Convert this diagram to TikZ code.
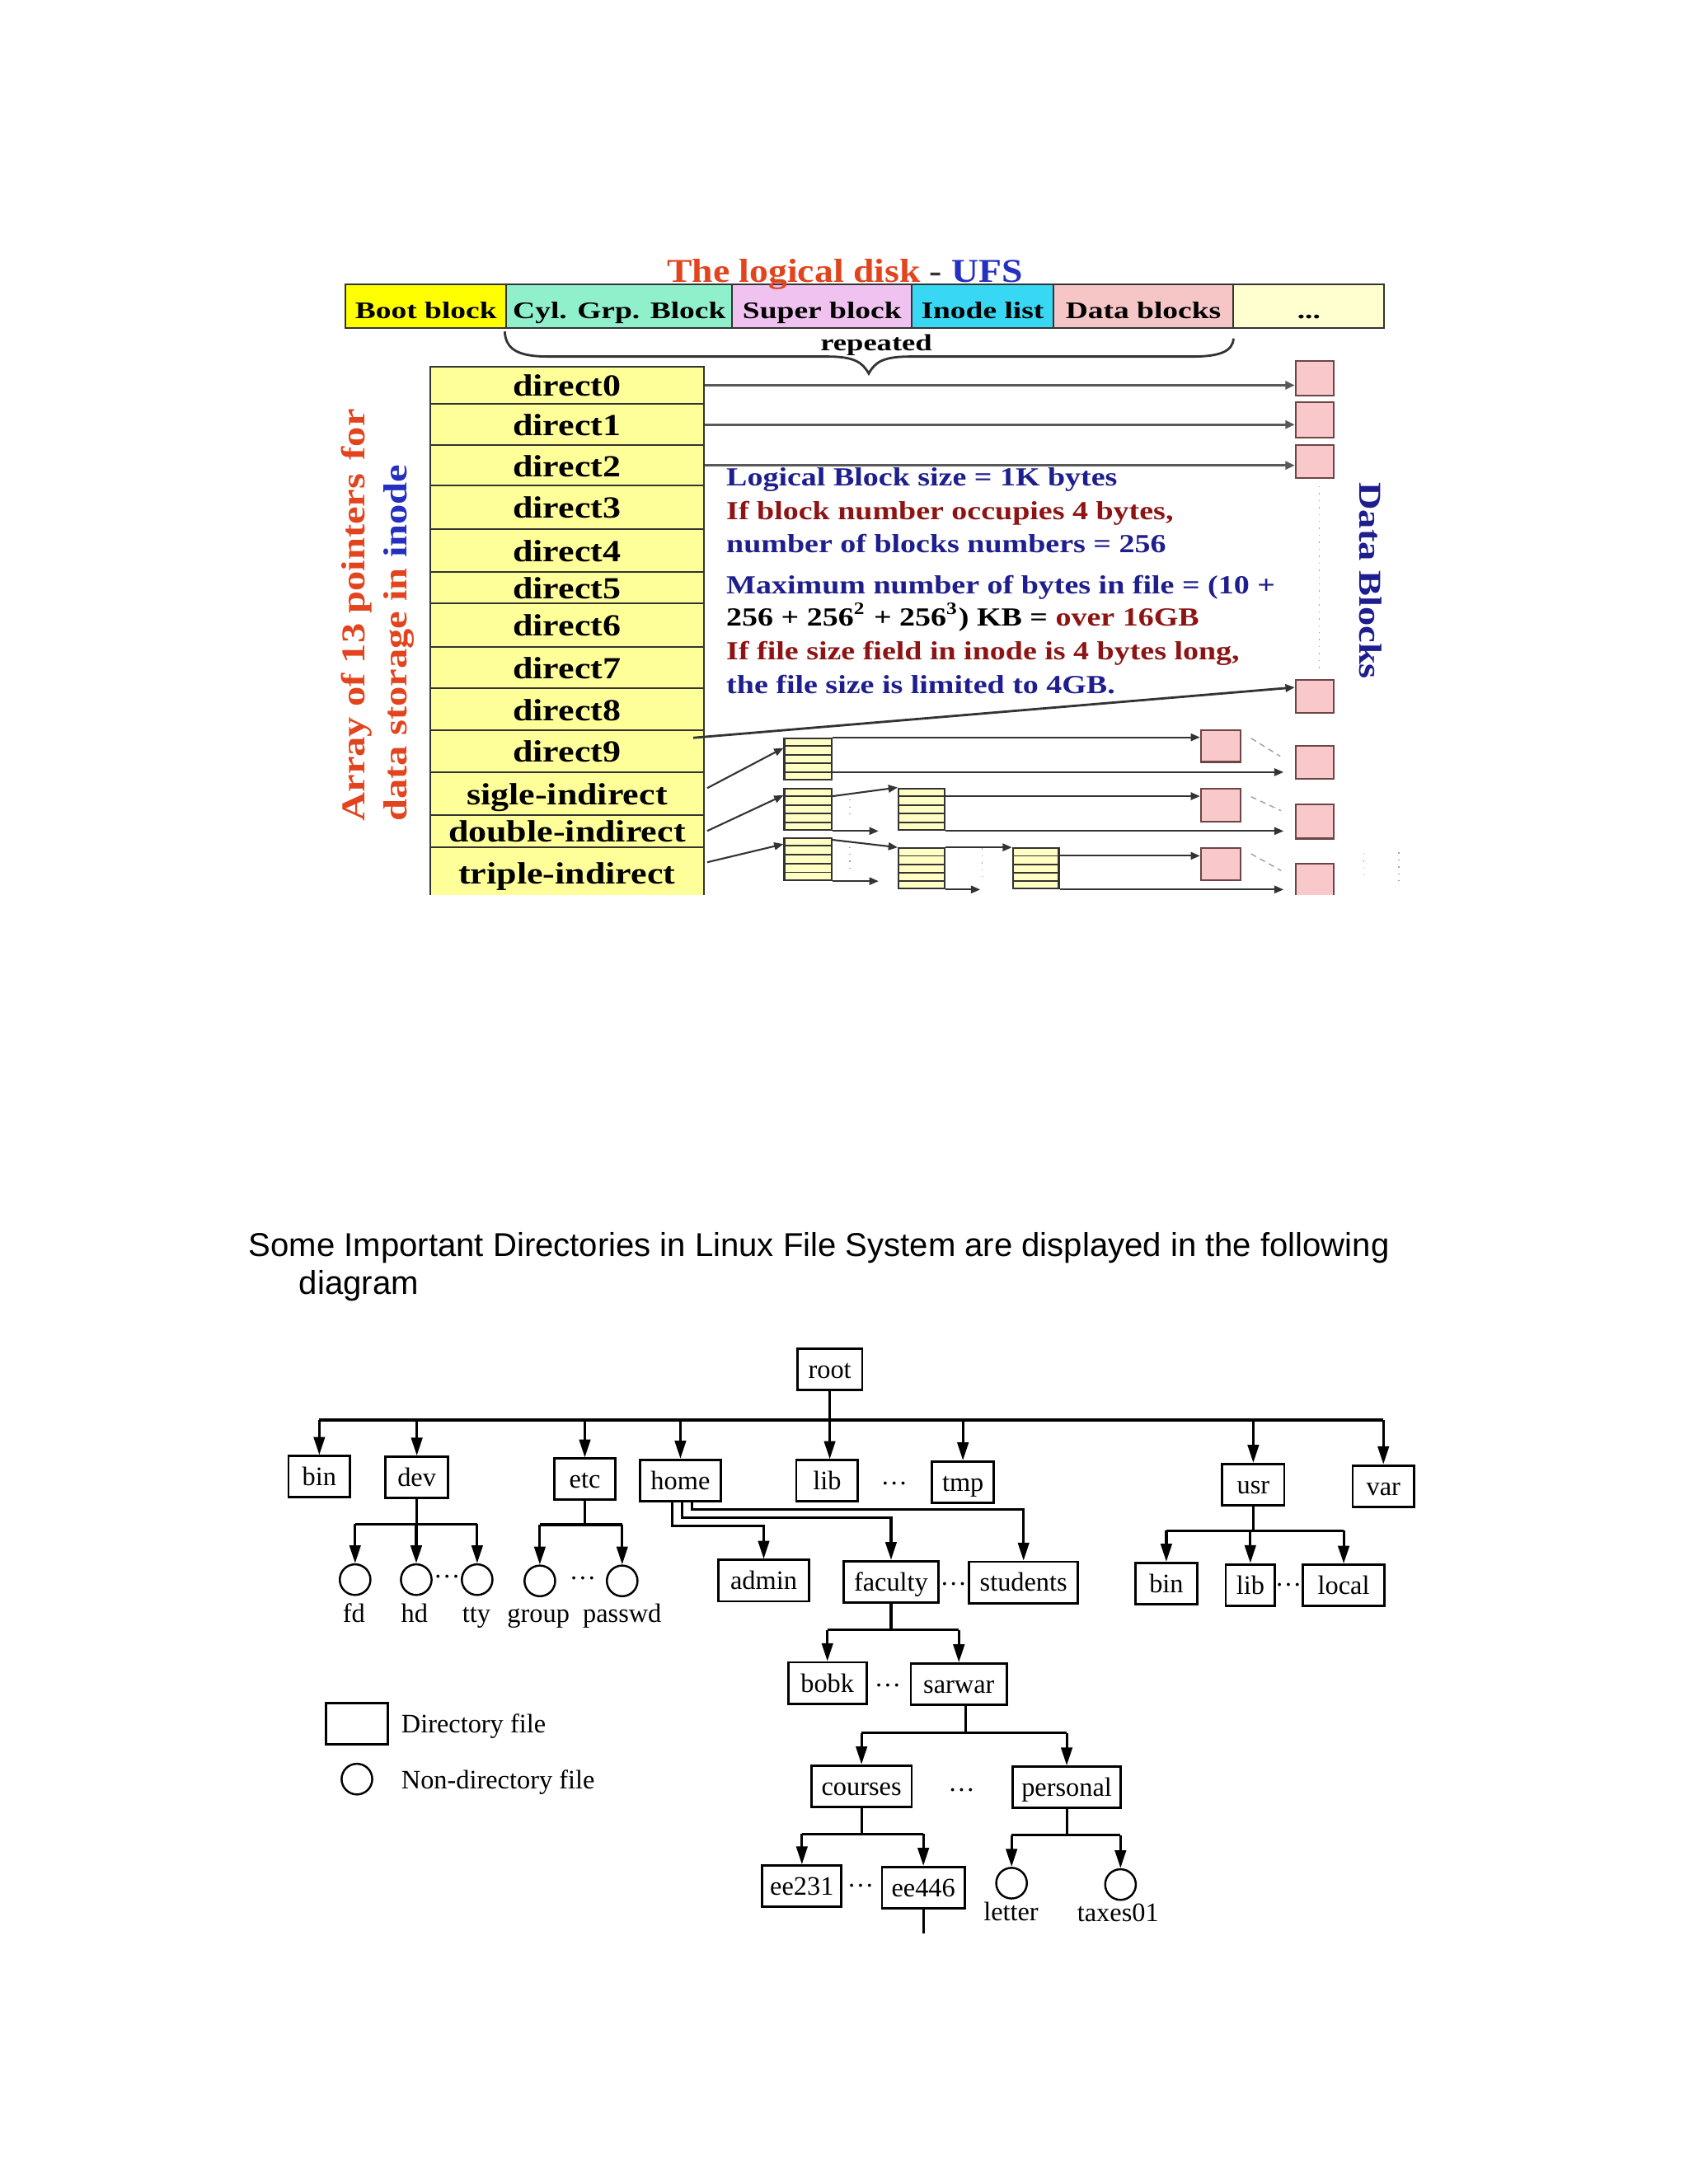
\documentclass[tikz,border=0pt]{standalone}
\usepackage{fontspec}
\setmainfont{Liberation Serif}
\newfontfamily\sansf{Liberation Sans}
\usepackage{graphicx}
\usetikzlibrary{arrows.meta,calc}
\definecolor{bootY}{HTML}{FFFF00}
\definecolor{cylG}{HTML}{90F0CC}
\definecolor{supP}{HTML}{F0C2F0}
\definecolor{inoC}{HTML}{38D8F4}
\definecolor{datP}{HTML}{F6C6C6}
\definecolor{dotY}{HTML}{FFFFD0}
\definecolor{tabY}{HTML}{FFFF99}
\definecolor{pinkB}{HTML}{F9C8CA}
\definecolor{pinkE}{HTML}{6E4444}
\definecolor{stripY}{HTML}{FFFFC4}
\definecolor{titR}{HTML}{E2441E}
\definecolor{titB}{HTML}{2430C0}
\definecolor{navy}{HTML}{1E1E8E}
\definecolor{dred}{HTML}{8E1414}
\definecolor{lineG}{HTML}{333333}
\definecolor{faintG}{HTML}{A0A0A0}
\newcommand{\sxk}[2]{\scalebox{#1}[1]{#2}}
\def\pxu{0.4808pt}
\tikzset{
  barseg/.style={draw=lineG, line width=0.6pt, minimum height=31.6*\pxu, inner sep=0pt,
    text height=8.66pt, text depth=0pt, font=\fontsize{8.2}{9}\selectfont\bfseries},
  inrow/.style={draw=lineG, line width=0.6pt, fill=tabY, minimum width=196*\pxu, inner sep=0pt,
    text height=7.6pt, text depth=0pt, font=\fontsize{10.6}{12}\selectfont\bfseries},
  pinkbox/.style={draw=pinkE, line width=0.6pt, fill=pinkB, inner sep=0pt},
  stripblk/.style={draw=lineG, line width=0.6pt, fill=stripY, inner sep=0pt},
  stripeln/.style={draw=lineG, line width=0.5pt},
  ptr/.style={draw=lineG, line width=0.6pt, -{Triangle[length=3.2pt,width=2.6pt]}},
  dptr/.style={draw=black!65, line width=0.9pt, -{Triangle[length=3.2pt,width=2.8pt]}},
  infot/.style={anchor=base west, inner sep=0pt, font=\fontsize{9}{11}\selectfont\bfseries},
  faint/.style={draw=faintG, line width=0.4pt},
  dirb/.style={draw=black, line width=0.8pt, minimum height=29.6*\pxu, inner sep=0pt,
    text height=6.2pt, text depth=0pt, font=\fontsize{9.2}{11}\selectfont},
  filec/.style={draw=black, line width=0.7pt, circle, minimum size=22*\pxu, inner sep=0pt},
  tline/.style={line width=0.9pt},
  tarr/.style={line width=0.9pt, -{Triangle[length=6.2pt,width=3.8pt]}},
  tlab/.style={anchor=base, inner sep=0pt, font=\fontsize{9.2}{11}\selectfont},
  tdots/.style={inner sep=0pt, font=\fontsize{9.2}{11}\selectfont},
}
\begin{document}
\begin{tikzpicture}[x=0.016898cm,y=-0.016898cm]
\fill[white] (0,0) rectangle (1212,1568);
\useasboundingbox (0,0) rectangle (1212,1568);

%================ TOP: logical disk / inode =================
\begin{scope}
\clip (190,170) rectangle (1020,642.5);

% disk bar
\node[barseg, fill=bootY, minimum width=115.5*\pxu] (boot) at (305.75,219.8) {\sxk{1.3}{Boot block}};
\node[barseg, fill=cylG, minimum width=162.1*\pxu] (cyl) at (444.55,219.8) {\sxk{1.3}{Cyl. Grp. Block}};
\node[barseg, fill=supP, minimum width=129*\pxu] (super) at (590.1,219.8) {\sxk{1.3}{Super block}};
\node[barseg, fill=inoC, minimum width=101.4*\pxu] (inol) at (705.3,219.8) {\sxk{1.3}{Inode list}};
\node[barseg, fill=datP, minimum width=129.4*\pxu] (datab) at (820.7,219.8) {\sxk{1.3}{Data blocks}};
\node[barseg, fill=dotY, minimum width=108.2*\pxu] (more) at (939.5,219.8) {\sxk{1.3}{...}};

% title
\node[anchor=base, inner sep=0pt, font=\fontsize{11.5}{13}\selectfont\bfseries] (title) at (606.5,202.5)
  {\sxk{1.13}{\textcolor{titR}{The logical disk} \textcolor{black!80}{-} \textcolor{titB}{UFS}}};

% brace + repeated
\draw[lineG, line width=0.8pt] (362.3,238) .. controls (363,251) and (372,256) .. (394,256)
  -- (594,256) .. controls (613,256) and (619,260) .. (623.6,268.2)
  .. controls (628,260) and (634,256) .. (653,256) -- (856,256)
  .. controls (876,256) and (885,252) .. (885.4,243);
\node[anchor=base, inner sep=0pt, font=\fontsize{8}{9}\selectfont\bfseries] (rep) at (629,251.5) {\sxk{1.3}{repeated}};

% inode table
\node[inrow, minimum height=26.8*\pxu] (d0) at (407,276.6) {\sxk{1.18}{direct0}};
\node[inrow, minimum height=29.7*\pxu] (d1) at (407,304.85) {\sxk{1.18}{direct1}};
\node[inrow, minimum height=28.9*\pxu] (d2) at (407,334.15) {\sxk{1.18}{direct2}};
\node[inrow, minimum height=31.1*\pxu] (d3) at (407,364.15) {\sxk{1.18}{direct3}};
\node[inrow, minimum height=30.9*\pxu] (d4) at (407,395.15) {\sxk{1.18}{direct4}};
\node[inrow, minimum height=22.6*\pxu] (d5) at (407,421.9) {\sxk{1.18}{direct5}};
\node[inrow, minimum height=31.2*\pxu] (d6) at (407,448.8) {\sxk{1.18}{direct6}};
\node[inrow, minimum height=29.9*\pxu] (d7) at (407,479.35) {\sxk{1.18}{direct7}};
\node[inrow, minimum height=29.9*\pxu] (d8) at (407,509.25) {\sxk{1.18}{direct8}};
\node[inrow, minimum height=30.4*\pxu] (d9) at (407,539.4) {\sxk{1.18}{direct9}};
\node[inrow, minimum height=30.4*\pxu] (si) at (407,569.8) {\sxk{1.18}{sigle-indirect}};
\node[inrow, minimum height=23.1*\pxu] (di) at (407,596.55) {\sxk{1.18}{double-indirect}};
\node[inrow, minimum height=36.9*\pxu] (ti) at (407,626.55) {\sxk{1.18}{triple-indirect}};

% rotated left text
\node[rotate=90, anchor=base west, inner sep=0pt, font=\fontsize{11.5}{13}\selectfont\bfseries, text=titR] (arr1) at (262,590)
  {\sxk{1.2}{Array of 13 pointers \hspace{1pt}for}};
\node[rotate=90, anchor=base west, inner sep=0pt, font=\fontsize{11.5}{13}\selectfont\bfseries, text=titR] (arr2) at (292,590)
  {\sxk{1.2}{data storage in \textcolor{titB}{inode}}};

% data blocks (right column)
\node[pinkbox, minimum width=27.4*\pxu, minimum height=25*\pxu] (p0) at (943.7,271.5) {};
\node[pinkbox, minimum width=27.4*\pxu, minimum height=25*\pxu] (p1) at (943.7,301.5) {};
\node[pinkbox, minimum width=27.4*\pxu, minimum height=23.4*\pxu] (p2) at (943.7,331.3) {};
\node[pinkbox, minimum width=27.4*\pxu, minimum height=24*\pxu] (p3) at (943.7,500) {};
\node[pinkbox, minimum width=27.4*\pxu, minimum height=23.5*\pxu] (p4) at (943.7,547.3) {};
\node[pinkbox, minimum width=27.4*\pxu, minimum height=24.5*\pxu] (p5) at (943.7,589.8) {};
\node[pinkbox, minimum width=27.4*\pxu, minimum height=25*\pxu] (p6) at (943.7,632.5) {};
% middle data blocks
\node[pinkbox, minimum width=28.3*\pxu, minimum height=23*\pxu] (m1) at (876.15,535.5) {};
\node[pinkbox, minimum width=28.3*\pxu, minimum height=24*\pxu] (m2) at (876.15,578) {};
\node[pinkbox, minimum width=28.3*\pxu, minimum height=23*\pxu] (m3) at (876.15,620.5) {};

\node[rotate=-90, anchor=base west, inner sep=0pt, font=\fontsize{11}{13}\selectfont\bfseries, text=navy] (dblk) at (976,346)
  {\sxk{1.2}{Data Blocks}};

% indirect blocks
\node[stripblk, minimum width=34*\pxu, minimum height=30*\pxu] (sA) at (580,545) {};
\node[stripblk, minimum width=34*\pxu, minimum height=30*\pxu] (sB1) at (580,581) {};
\node[stripblk, minimum width=33*\pxu, minimum height=30*\pxu] (sB2) at (661.5,581) {};
\node[stripblk, minimum width=34*\pxu, minimum height=30.4*\pxu] (sC1) at (580,616.8) {};
\node[stripblk, minimum width=33*\pxu, minimum height=29*\pxu] (sC2) at (661.5,623.5) {};
\node[stripblk, minimum width=33*\pxu, minimum height=29*\pxu] (sC3) at (743.5,623.5) {};
\foreach \nm in {sA,sB1,sB2,sC1,sC2,sC3}{
  \foreach \k in {1,2,3,4}{
    \draw[stripeln] ($(\nm.north west)!\k/5!(\nm.south west)$) -- ($(\nm.north east)!\k/5!(\nm.south east)$);
  }
}

% info text
\node[infot, text=navy] (i1) at (521,349) {\sxk{1.2}{Logical Block size = 1K bytes}};
\node[infot, text=dred] (i2) at (521,372.8) {\sxk{1.2}{If block number occupies 4 bytes,}};
\node[infot, text=navy] (i3) at (521,396.9) {\sxk{1.2}{number of blocks numbers = 256}};
\node[infot, text=navy] (i4) at (521,426.3) {\sxk{1.2}{Maximum number of bytes in file = (10 +}};
\node[infot, text=black] (i5) at (521,449.2) {\sxk{1.2}{256 + 256\textsuperscript{2} + 256\textsuperscript{3}) KB = \textcolor{dred}{over 16GB}}};
\node[infot, text=dred] (i6) at (521,473.6) {\sxk{1.2}{If file size field in inode is 4 bytes long,}};
\node[infot, text=navy] (i7) at (521,498) {\sxk{1.2}{the file size is limited to 4GB.}};

% faint continuation marks
\draw[faint, dotted] (947,349) -- (947,480);
\draw[faint, dash pattern=on 2pt off 1.5pt] (898,530) -- (919,543);
\draw[faint, dash pattern=on 2pt off 1.5pt] (898,572) -- (919.5,582);
\draw[faint, dash pattern=on 2pt off 1.5pt] (898,613) -- (919.5,625);
\draw[faint, dotted] (610,574) -- (610,588);
\draw[faint, dotted] (610,608) -- (610,627);
\draw[faint, dotted] (705,609) -- (705,630);
\draw[faint, dotted] (979,613) -- (979,628);
\draw[faint, dotted] (1004,612) -- (1004,632);

% pointers
\draw[dptr] (d0.east) -- (d0.east -| p0.west);
\draw[dptr] (d1.east) -- (d1.east -| p1.west);
\draw[dptr] (d2.east) -- (d2.east -| p2.west);
\draw[ptr, line width=0.8pt] ($(d9.east)+(-8,-9.7)$) -- ($(p3.west)+(0,-6.5)$);
\draw[ptr] ($(si.east)+(2,-4)$) -- ($(sA.west)+(0,-8)$);
\draw[ptr] ($(di.east)+(2,0)$) -- ($(sB1.west)+(0,-10)$);
\draw[ptr] ($(ti.east)+(2,-7.5)$) -- ($(sC1.west)+(0,-10.8)$);

\coordinate (sA4) at ($(sA.north east)!0.8!(sA.south east)$);
\coordinate (sB1a) at ($(sB1.north east)!0.2!(sB1.south east)$);
\coordinate (sB2a) at ($(sB2.north east)!0.2!(sB2.south east)$);
\coordinate (sC3a) at ($(sC3.north east)!0.2!(sC3.south east)$);
\coordinate (fB1) at ($(sB1.south east)+(33,0)$);
\coordinate (fC1) at ($(sC1.south east)+(33,0)$);
\coordinate (fC2) at ($(sC2.south east)+(25,0)$);

\draw[ptr] (sA.north east) -- (sA.north east -| m1.west);
\draw[ptr] (sA4) -- ($(sA4 -| p4.west)+(-8,0)$);
\draw[ptr] (sB1a) -- (sB2.north west);
\draw[ptr] (sB1.south east) -- (fB1);
\draw[ptr] (sB2a) -- (sB2a -| m2.west);
\draw[ptr] (sB2.south east) -- ($(sB2.south east -| p5.west)+(-8,0)$);
\draw[ptr] ($(sC1.north east)+(0,2)$) -- (sC2.north west);
\draw[ptr] (sC1.south east) -- (fC1);
\draw[ptr] (sC2.north east) -- (sC3.north west);
\draw[ptr] (sC2.south east) -- (fC2);
\draw[ptr] (sC3a) -- (sC3a -| m3.west);
\draw[ptr] (sC3.south east) -- ($(sC3.south east -| p6.west)+(-8,0)$);
\end{scope}

%================ CAPTION =================
\node[anchor=base west, inner sep=0pt, font=\sansf\fontsize{11.4}{13}\selectfont] (cap1) at (178.2,901.8)
  {Some Important Directories in Linux File System are displayed in the following};
\node[anchor=base west, inner sep=0pt, font=\sansf\fontsize{11.4}{13}\selectfont] (cap2) at (214.3,929) {diagram};

%================ TREE =================
\node[dirb, minimum width=46.6*\pxu] (root) at (595.6,983.3) {root};
\node[dirb, minimum width=44.1*\pxu] (bin) at (229.2,1060.2) {bin};
\node[dirb, minimum width=44.8*\pxu] (dev) at (299.2,1060.7) {dev};
\node[dirb, minimum width=43.5*\pxu] (etc) at (419.8,1062) {etc};
\node[dirb, minimum width=57.8*\pxu] (home) at (488.4,1062.9) {home};
\node[dirb, minimum width=44.2*\pxu] (lib) at (593.7,1063.2) {lib};
\node[dirb, minimum width=44.2*\pxu] (tmp) at (691.2,1064.1) {tmp};
\node[dirb, minimum width=44.4*\pxu] (usr) at (899.6,1065.9) {usr};
\node[dirb, minimum width=44*\pxu] (var) at (993,1066.9) {var};
\node[dirb, minimum width=65.2*\pxu] (admin) at (548.2,1134.8) {admin};
\node[dirb, minimum width=68*\pxu] (faculty) at (639.6,1135.6) {faculty};
\node[dirb, minimum width=78.2*\pxu] (students) at (734.7,1136.1) {students};
\node[dirb, minimum width=44.1*\pxu] (ubin) at (837.2,1136.9) {bin};
\node[dirb, minimum width=35.2*\pxu] (ulib) at (897.5,1137.9) {lib};
\node[dirb, minimum width=58.6*\pxu] (local) at (964.5,1138.3) {local};
\node[dirb, minimum width=56.1*\pxu] (bobk) at (593.9,1208.3) {bobk};
\node[dirb, minimum width=68.9*\pxu] (sarwar) at (688.3,1209.1) {sarwar};
\node[dirb, minimum width=71.9*\pxu] (courses) at (618.4,1282.4) {courses};
\node[dirb, minimum width=77.6*\pxu] (personal) at (765.7,1283.2) {personal};
\node[dirb, minimum width=56.8*\pxu] (ee231) at (575.6,1354.2) {ee231};
\node[dirb, minimum width=59.3*\pxu] (ee446) at (662.8,1355.2) {ee446};

\node[filec] (fd) at (254.9,1134.1) {};
\node[filec] (hd) at (298.8,1134.1) {};
\node[filec] (tty) at (342.5,1134.1) {};
\node[filec] (group) at (387.5,1135) {};
\node[filec] (passwd) at (446.6,1135) {};
\node[filec] (letter) at (726.1,1352) {};
\node[filec] (taxes) at (804.3,1353) {};

\node[tlab] (fdl) at (254,1164.5) {fd};
\node[tlab] (hdl) at (297.5,1164.5) {hd};
\node[tlab] (ttyl) at (342,1164.5) {tty};
\node[tlab] (groupl) at (386.5,1164.5) {group};
\node[tlab] (passwdl) at (446.6,1164.5) {passwd};
\node[tlab] (letterl) at (725.7,1379) {letter};
\node[tlab] (taxesl) at (802.5,1379.5) {taxes01};

\node[tdots] (dt1) at (641.9,1065) {…};
\node[tdots] (dt2) at (320.9,1132) {…};
\node[tdots] (dt3) at (418.4,1133) {…};
\node[tdots] (dt4) at (684.4,1137) {…};
\node[tdots] (dt5) at (924.9,1138) {…};
\node[tdots] (dt6) at (637.3,1210) {…};
\node[tdots] (dt7) at (690.3,1285) {…};
\node[tdots] (dt8) at (617.8,1354) {…};

% root level
\coordinate (busR) at (0,1019.5);
\draw[tline] (bin.north |- busR) -- (var.north |- busR);
\draw[tarr] (root.south) -- (root.south |- lib.north);
\foreach \cn in {bin,dev,etc,home,tmp,usr,var}{
  \draw[tarr] (\cn.north |- busR) -- (\cn.north);
}
% dev
\coordinate (busDev) at (0,1094.3);
\draw[tline] (dev.south) -- (dev.south |- busDev);
\draw[tline] (fd.north |- busDev) -- (tty.north |- busDev);
\foreach \cn in {fd,hd,tty}{ \draw[tarr] (\cn.north |- busDev) -- (\cn.north); }
% etc
\coordinate (busEtc) at (0,1094.6);
\draw[tline] (etc.south) -- (etc.south |- busEtc);
\draw[tline] (group.north |- busEtc) -- (passwd.north |- busEtc);
\foreach \cn in {group,passwd}{ \draw[tarr] (\cn.north |- busEtc) -- (\cn.north); }
% home
\coordinate (hA) at (0,1095.7);
\coordinate (hF) at (0,1089.7);
\coordinate (hS) at (0,1083.8);
\draw[tarr] ($(home.south)+(-6.1,0)$) |- (admin.north |- hA) -- (admin.north);
\draw[tarr] ($(home.south)+(1,0)$) |- (faculty.north |- hF) -- (faculty.north);
\draw[tarr] ($(home.south)+(8.5,0)$) |- (students.north |- hS) -- (students.north);
% usr
\coordinate (busUsr) at (0,1099);
\draw[tline] (usr.south) -- (usr.south |- busUsr);
\draw[tline] (ubin.north |- busUsr) -- (local.north |- busUsr);
\foreach \cn in {ubin,ulib,local}{ \draw[tarr] (\cn.north |- busUsr) -- (\cn.north); }
% faculty
\coordinate (busFac) at (0,1170.3);
\draw[tline] (faculty.south) -- (faculty.south |- busFac);
\draw[tline] (bobk.north |- busFac) -- (sarwar.north |- busFac);
\foreach \cn in {bobk,sarwar}{ \draw[tarr] (\cn.north |- busFac) -- (\cn.north); }
% sarwar
\coordinate (busSar) at (0,1244.2);
\draw[tline] ($(sarwar.south)+(5,0)$) -- ($(sarwar.south |- busSar)+(5,0)$);
\draw[tline] (courses.north |- busSar) -- (personal.north |- busSar);
\foreach \cn in {courses,personal}{ \draw[tarr] (\cn.north |- busSar) -- (\cn.north); }
% courses
\coordinate (busCou) at (0,1316.6);
\draw[tline] (courses.south) -- (courses.south |- busCou);
\draw[tline] (ee231.north |- busCou) -- (ee446.north |- busCou);
\foreach \cn in {ee231,ee446}{ \draw[tarr] (\cn.north |- busCou) -- (\cn.north); }
% personal
\coordinate (busPer) at (0,1317.6);
\draw[tline] (personal.south) -- (personal.south |- busPer);
\draw[tline] (letter.north |- busPer) -- (taxes.north |- busPer);
\foreach \cn in {letter,taxes}{ \draw[tarr] (\cn.north |- busPer) -- (\cn.north); }
% ee446 tail
\coordinate (eeTail) at ($(ee446.south)+(0,17)$);
\draw[tline] (ee446.south) -- (eeTail);

% legend
\node[dirb, minimum width=44.8*\pxu] (legdir) at (256.2,1237.3) {};
\node[tlab, anchor=base west] (legdirt) at (287.7,1244.2) {Directory file};
\node[filec] (legfile) at (256.2,1277.3) {};
\node[tlab, anchor=base west] (legfilet) at (287.7,1284) {Non-directory file};
\end{tikzpicture}
\end{document}
